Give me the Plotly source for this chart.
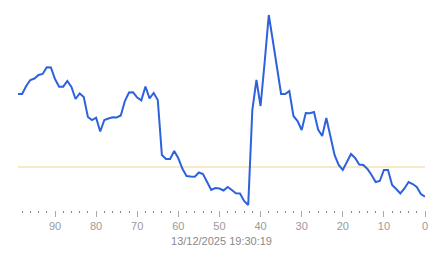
import plotly.graph_objects as go

# x positions (seconds ago), 99 .. 0
x_vals = list(range(99, -1, -1))
series_vals = [
    116, 116, 124, 130, 131.5, 135, 136, 142.7, 142.5, 131,
    123.3, 123.3, 129, 123, 111, 116.5, 113, 93, 90, 92.3,
    78.5, 90, 91.5, 92.7, 92.5, 94.5, 109, 117.5, 117.7, 112.5,
    109.6, 123.5, 111.7, 117, 110, 55, 51, 51, 59, 51.7,
    41.2, 34, 33.5, 33.3, 37.5, 36, 28, 20, 22, 21.5,
    19.5, 23, 20, 16.7, 16.5, 9, 5, 100, 130, 104,
    148, 195, 169, 142, 116, 116, 119, 94, 89, 80,
    97, 96.7, 98, 80.5, 74, 92, 75, 55, 45, 40,
    48, 56, 52, 45.5, 45, 41, 35, 28, 29, 40,
    40, 25, 21, 16.5, 21.5, 28, 26, 23, 16, 13.3,
]
threshold = 43
tick_vals = [90, 80, 70, 60, 50, 40, 30, 20, 10, 0]
tick_text = ["90", "80", "70", "60", "50", "40", "30", "20", "10", "0"]
x_title = "13/12/2025 19:30:19"

fig = go.Figure()
fig.add_trace(go.Scatter(
    x=[x_vals[0], x_vals[-1]], y=[threshold, threshold], mode="lines",
    line=dict(color="#f2d58c", width=1.2), hoverinfo="skip", showlegend=False))
fig.add_trace(go.Scatter(
    x=x_vals, y=series_vals, mode="lines",
    line=dict(color="#2e62dc", width=2), showlegend=False))

fig.update_layout(
    width=443, height=258,
    margin=dict(l=17.6, r=17.5, t=5, b=48),
    paper_bgcolor="white", plot_bgcolor="white",
    font=dict(family="Liberation Sans, Arial, sans-serif", size=11, color="#999999"),
    xaxis=dict(
        range=[99, 0], showgrid=False, zeroline=False, showline=False,
        tickmode="array", tickvals=tick_vals, ticktext=tick_text,
        ticks="outside", ticklen=6, tickcolor="#aaaaaa", tickwidth=1,
        minor=dict(dtick=2, tick0=0, ticks="outside", ticklen=2, tickcolor="#888888", tickwidth=1),
        tickfont=dict(size=11, color="#9a9a9a"),
        title=dict(text=x_title, font=dict(size=11, color="#8a8a8a"), standoff=6),
    ),
    yaxis=dict(range=[0, 205], visible=False, showgrid=False, zeroline=False),
)

fig.write_html("out.html")
